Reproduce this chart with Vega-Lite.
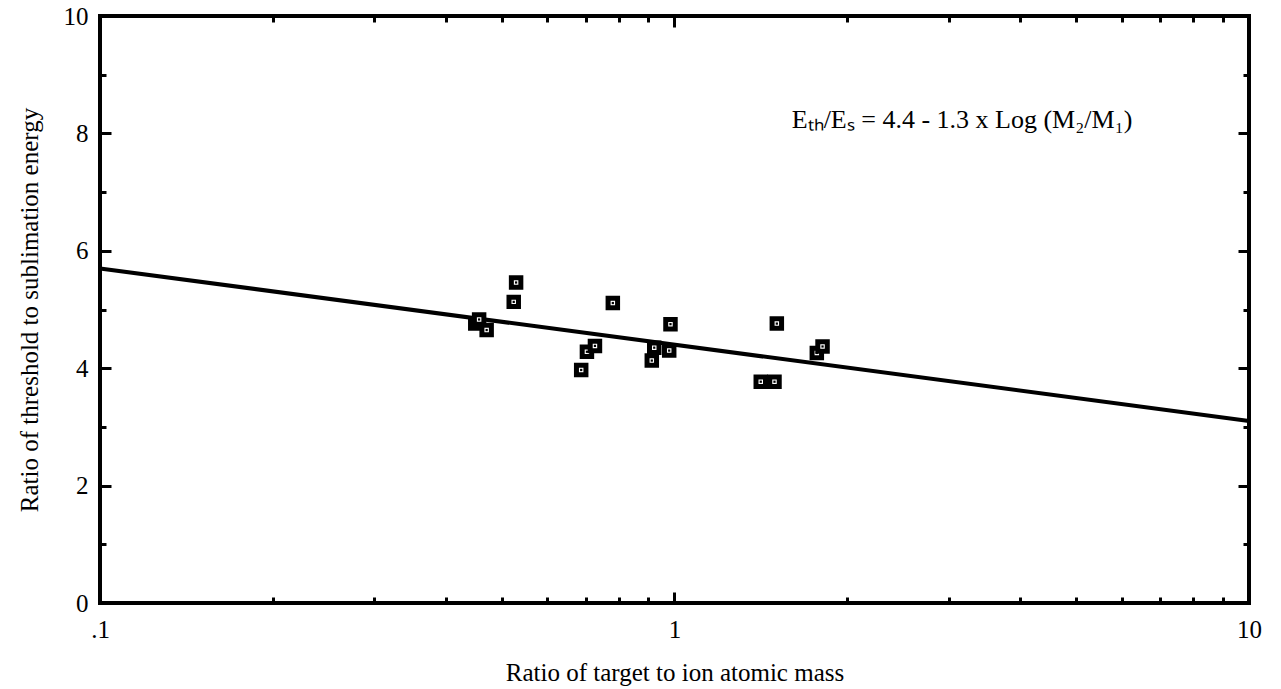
{
  "$schema": "https://vega.github.io/schema/vega-lite/v6.json",
  "width": 1149,
  "height": 587,
  "autosize": {"type": "none"},
  "padding": {"left": 100, "top": 16, "right": 32, "bottom": 86},
  "background": "white",
  "config": {
    "view": {"stroke": "black", "strokeWidth": 4},
    "axis": {
      "grid": false,
      "domain": false,
      "labelFont": "Liberation Serif",
      "titleFont": "Liberation Serif",
      "labelFontSize": 25,
      "titleFontSize": 25,
      "titleFontWeight": "normal",
      "labelColor": "black",
      "titleColor": "black",
      "tickColor": "black",
      "tickWidth": 3,
      "labelFlush": false,
      "labelOverlap": false
    }
  },
  "datasets": {
    "fit": [
      {"x": 0.1, "y": 5.7},
      {"x": 10, "y": 3.1}
    ],
    "pts": [
      {"x": 0.450, "y": 4.76},
      {"x": 0.457, "y": 4.83},
      {"x": 0.471, "y": 4.65},
      {"x": 0.525, "y": 5.13},
      {"x": 0.530, "y": 5.46},
      {"x": 0.781, "y": 5.11},
      {"x": 0.688, "y": 3.97},
      {"x": 0.704, "y": 4.28},
      {"x": 0.727, "y": 4.38},
      {"x": 0.913, "y": 4.13},
      {"x": 0.922, "y": 4.35},
      {"x": 0.979, "y": 4.30},
      {"x": 0.984, "y": 4.75},
      {"x": 1.413, "y": 3.77},
      {"x": 1.493, "y": 3.77},
      {"x": 1.507, "y": 4.76},
      {"x": 1.769, "y": 4.26},
      {"x": 1.810, "y": 4.37}
    ],
    "note": [
      {"x": 1.6, "y": 8.09, "label": "Eₜₕ/Eₛ = 4.4 - 1.3 x Log (M₂/M₁)"}
    ]
  },
  "layer": [
    {
      "data": {"name": "fit"},
      "mark": {"type": "line", "color": "black", "strokeWidth": 4},
      "encoding": {
        "x": {
          "field": "x", "type": "quantitative",
          "scale": {"type": "log", "domain": [0.1, 10], "nice": false},
          "axis": {
            "orient": "bottom", "values": [0.1, 1, 10], "tickSize": -11,
            "labelPadding": 25,
            "labelExpr": "datum.value < 0.5 ? '.1' : format(datum.value, 'd')",
            "title": "Ratio of target to ion atomic mass", "titlePadding": 18
          }
        },
        "y": {
          "field": "y", "type": "quantitative",
          "scale": {"domain": [0, 10], "nice": false},
          "axis": {
            "orient": "left", "values": [0, 2, 4, 6, 8, 10], "tickSize": -11,
            "labelPadding": 23,
            "title": "Ratio of threshold to sublimation energy", "titlePadding": 21
          }
        }
      }
    },
    {
      "data": {"name": "pts"},
      "mark": {"type": "point", "shape": "square", "filled": false, "fill": "white", "fillOpacity": 1, "stroke": "black", "strokeWidth": 5, "size": 90, "opacity": 1},
      "encoding": {
        "x": {
          "field": "x", "type": "quantitative",
          "axis": {
            "orient": "bottom",
            "values": [0.2, 0.3, 0.4, 0.5, 0.6, 0.7, 0.8, 0.9, 2, 3, 4, 5, 6, 7, 8, 9],
            "tickSize": -6, "labels": false, "title": null
          }
        },
        "y": {
          "field": "y", "type": "quantitative",
          "axis": {
            "orient": "left", "values": [1, 3, 5, 7, 9],
            "tickSize": -6, "labels": false, "title": null
          }
        }
      }
    },
    {
      "data": {"name": "pts"},
      "mark": {"type": "point", "shape": "square", "filled": true, "color": "black", "size": 5, "opacity": 1},
      "encoding": {
        "x": {
          "field": "x", "type": "quantitative",
          "axis": {
            "orient": "top", "values": [0.1, 1, 10],
            "tickSize": -11, "labels": false, "title": null
          }
        },
        "y": {
          "field": "y", "type": "quantitative",
          "axis": {
            "orient": "right", "values": [0, 2, 4, 6, 8, 10],
            "tickSize": -11, "labels": false, "title": null
          }
        }
      }
    },
    {
      "data": {"name": "note"},
      "mark": {"type": "text", "align": "left", "baseline": "alphabetic", "font": "Liberation Serif", "fontSize": 26, "color": "black"},
      "encoding": {
        "x": {
          "field": "x", "type": "quantitative",
          "axis": {
            "orient": "top",
            "values": [0.2, 0.3, 0.4, 0.5, 0.6, 0.7, 0.8, 0.9, 2, 3, 4, 5, 6, 7, 8, 9],
            "tickSize": -6, "labels": false, "title": null
          }
        },
        "y": {
          "field": "y", "type": "quantitative",
          "axis": {
            "orient": "right", "values": [1, 3, 5, 7, 9],
            "tickSize": -6, "labels": false, "title": null
          }
        },
        "text": {"field": "label", "type": "nominal"}
      }
    }
  ],
  "resolve": {
    "scale": {"x": "shared", "y": "shared"},
    "axis": {"x": "independent", "y": "independent"}
  }
}
